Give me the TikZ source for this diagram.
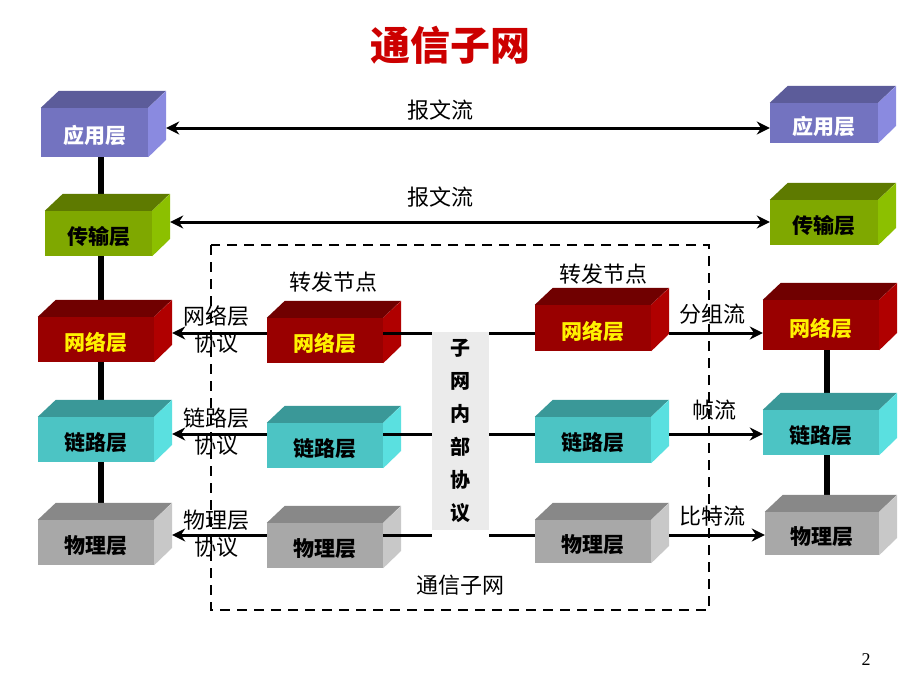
\documentclass[tikz,border=0pt]{standalone}
\usepackage{fontspec}
\setmainfont{Liberation Serif}
\newfontfamily\cjk{Noto Sans CJK SC}
\usetikzlibrary{arrows.meta}
\definecolor{aF}{HTML}{7373C0}\definecolor{aT}{HTML}{5C5C9A}\definecolor{aS}{HTML}{8A8AE0}
\definecolor{tF}{HTML}{7FA800}\definecolor{tT}{HTML}{5E7A00}\definecolor{tS}{HTML}{8CC000}
\definecolor{nF}{HTML}{990000}\definecolor{nT}{HTML}{700000}\definecolor{nS}{HTML}{B00000}
\definecolor{lF}{HTML}{4CC4C4}\definecolor{lT}{HTML}{3A9898}\definecolor{lS}{HTML}{5AE0E0}
\definecolor{pF}{HTML}{A8A8A8}\definecolor{pT}{HTML}{888888}\definecolor{pS}{HTML}{C8C8C8}
\newcommand\myblk[7]{%
 \node[blk,fill=#6F,minimum width=#4pt,minimum height=#5pt,text=#7] (#1) at (#2,#3) {};
 \fill[#6T] (#1.north west) -- ++(18pt,17pt) -- ++(#4pt,0) -- (#1.north east) -- cycle;
 \fill[#6S] (#1.north east) -- ++(18pt,17pt) -- ++(0,-#5pt) -- (#1.south east) -- cycle;}
\tikzset{blk/.style={inner sep=0,font=\cjk\bfseries\fontsize{21}{21}\selectfont},
 lab/.style={font=\cjk\fontsize{22}{27}\selectfont,inner sep=0,align=center},
 arr/.style={line width=3pt,-{Stealth[length=13pt,width=13pt]}},
 darr/.style={line width=3pt,{Stealth[length=13pt,width=13pt]}-{Stealth[length=13pt,width=13pt]}},
 ln/.style={line width=3pt}}
\begin{document}
\begin{tikzpicture}[x=1pt,y=-1pt]
\useasboundingbox[fill=white] (0,0) rectangle (920,690);
\node[font=\cjk\bfseries\fontsize{40}{40}\selectfont,text=red!80!black] (title) at (450,45) {通信子网};
% vertical lines
\coordinate (l1) at (101,140); \coordinate (l2) at (101,545);
\coordinate (r1) at (827,330); \coordinate (r2) at (827,535);
\draw[line width=6pt] (l1) -- (l2);
\draw[line width=6pt] (r1) -- (r2);
% dashed frame
\draw[line width=2.5pt,dash pattern=on 10pt off 7pt] (211,245) rectangle (709,610);
% blocks
\myblk{A1}{94.5}{132.5}{107}{49}{a}{white}
\myblk{T1}{98.5}{233.5}{107}{45}{t}{black}
\myblk{N1}{96}{339.5}{116}{45}{n}{yellow}
\myblk{L1}{96}{439.5}{116}{45}{l}{black}
\myblk{P1}{96}{542.5}{116}{45}{p}{black}
\myblk{N2}{325}{340.5}{116}{45}{n}{yellow}
\myblk{L2}{325}{445.5}{116}{45}{l}{black}
\myblk{P2}{325}{545.5}{116}{45}{p}{black}
\myblk{N3}{593}{328}{116}{46}{n}{yellow}
\myblk{L3}{593}{440}{116}{46}{l}{black}
\myblk{P3}{593}{541.5}{116}{43}{p}{black}
\myblk{A4}{824}{123}{108}{40}{a}{white}
\myblk{T4}{824}{222.5}{108}{45}{t}{black}
\myblk{N4}{821}{325}{116}{50}{n}{yellow}
\myblk{L4}{821}{432.5}{116}{45}{l}{black}
\myblk{P4}{822}{533.5}{114}{43}{p}{black}
\foreach \n/\t/\c in {A1/应用层/white,T1/传输层/black,N1/网络层/yellow,L1/链路层/black,P1/物理层/black,
 N2/网络层/yellow,L2/链路层/black,P2/物理层/black,N3/网络层/yellow,L3/链路层/black,P3/物理层/black,
 A4/应用层/white,T4/传输层/black,N4/网络层/yellow,L4/链路层/black,P4/物理层/black}
 \node[blk,text=\c] at ([yshift=-3pt]\n.center) {\t};
% center label box
\node[fill=black!8,minimum width=57pt,minimum height=198pt,inner sep=0] (box) at (460.5,431) {};
\node[font=\cjk\bfseries\fontsize{20}{33}\selectfont,align=center] at (box) {子\\网\\内\\部\\协\\议};
% connectors
\coordinate (yn) at (0,333); \coordinate (yl) at (0,434); \coordinate (yp) at (0,535);
\draw[ln] (N2.east |- yn) -- (box.west |- yn);
\draw[ln] (box.east |- yn) -- (N3.west |- yn);
\draw[ln] (L2.east |- yl) -- (box.west |- yl);
\draw[ln] (box.east |- yl) -- (L3.west |- yl);
\draw[ln] (P2.east |- yp) -- (box.west |- yp);
\draw[ln] (box.east |- yp) -- (P3.west |- yp);
\draw[darr] ([xshift=18pt]A1.east |- 0,128) -- (A4.west |- 0,128);
\draw[darr] ([xshift=18pt]T1.east |- 0,222) -- (T4.west |- 0,222);
\draw[arr] (N2.west |- yn) -- ([xshift=18pt]N1.east |- yn);
\draw[arr] (L2.west |- yl) -- ([xshift=18pt]L1.east |- yl);
\draw[arr] (P2.west |- yp) -- ([xshift=18pt]P1.east |- yp);
\draw[arr] ([xshift=18pt]N3.east |- yn) -- (N4.west |- yn);
\draw[arr] ([xshift=18pt]L3.east |- yl) -- (L4.west |- yl);
\draw[arr] ([xshift=18pt]P3.east |- yp) -- (P4.west |- yp);
% labels
\node[lab] (m1) at (440,110) {报文流};
\node[lab] (m2) at (440,197) {报文流};
\node[lab] (f1) at (333,282) {转发节点};
\node[lab] (f2) at (603,274) {转发节点};
\node[lab] (p1) at (216,330) {网络层\\协议};
\node[lab] (p2) at (216,432) {链路层\\协议};
\node[lab] (p3) at (216,534) {物理层\\协议};
\node[lab] (s1) at (712,314) {分组流};
\node[lab] (s2) at (714,410) {帧流};
\node[lab] (s3) at (712,516) {比特流};
\node[lab] (cs) at (460,585) {通信子网};
\node[font=\fontsize{18}{18}\selectfont] (pg) at (866,660) {2};
\end{tikzpicture}
\end{document}
